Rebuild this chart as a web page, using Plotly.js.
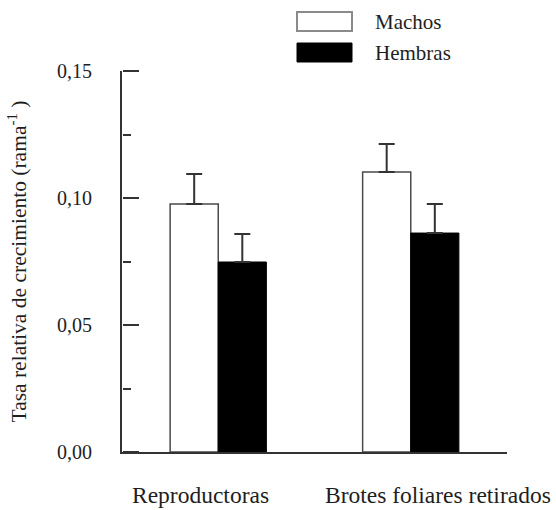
<!DOCTYPE html>
<html>
<head>
<meta charset="utf-8">
<script src="https://cdn.plot.ly/plotly-3.0.1.min.js"></script>
<style>html,body{margin:0;padding:0;background:#fff;}#chart{width:556px;height:510px;}</style>
</head>
<body>
<div id="chart"></div>
<script>
var categories = ['Reproductoras', 'Brotes foliares retirados'];
var seriesNames = ['Machos', 'Hembras'];
var machos = [0.0976, 0.1102];
var hembras = [0.0748, 0.0862];
var machosErr = [0.0118, 0.0111];
var hembrasErr = [0.0110, 0.0114];
var yRange = [0, 0.15];
var yTickStep = 0.05;
var yMinorStep = 0.025;

var FONT = 'Liberation Serif';
var TXT = '#1e1e1e';
var AX = '#333333';

var traces = [
  {
    type: 'bar', name: seriesNames[0], x: categories, y: machos,
    marker: {color: '#ffffff', line: {color: '#4a4a4a', width: 1.5}},
    error_y: {type: 'data', array: machosErr, arrayminus: [0, 0], symmetric: false,
              color: AX, thickness: 2, width: 8},
    showlegend: false
  },
  {
    type: 'bar', name: seriesNames[1], x: categories, y: hembras,
    marker: {color: '#000000', line: {color: '#000000', width: 1}},
    error_y: {type: 'data', array: hembrasErr, arrayminus: [0, 0], symmetric: false,
              color: AX, thickness: 2, width: 8},
    showlegend: false
  },
  // these two carry the overlay axes that draw the tick marks; they draw no marks
  {type: 'scatter', mode: 'none', x: categories, y: hembras, yaxis: 'y2', hoverinfo: 'skip', showlegend: false},
  {type: 'scatter', mode: 'none', x: categories, y: hembras, yaxis: 'y3', hoverinfo: 'skip', showlegend: false}
];

function px2x(p) { return (p - 122) / 385; }
function px2y(p) { return (452 - p) / 381; }

var layout = {
  width: 556, height: 510,
  margin: {l: 122, r: 49, t: 71, b: 58},
  paper_bgcolor: '#ffffff', plot_bgcolor: '#ffffff',
  barmode: 'group', bargap: 0.5, bargroupgap: 0,
  showlegend: false,
  separators: ', ',
  font: {family: FONT, color: TXT, size: 20},
  xaxis: {
    range: [-0.5, 1.5], showline: true, linecolor: AX, linewidth: 2,
    showgrid: false, zeroline: false, ticks: '', showticklabels: false, fixedrange: true
  },
  yaxis: {
    range: yRange, showline: true, linecolor: AX, linewidth: 2,
    showgrid: false, zeroline: false,
    tickmode: 'linear', tick0: 0, dtick: yTickStep, tickformat: '.2f',
    ticks: '',
    ticksuffix: '\u2003\u2009',
    tickfont: {family: FONT, size: 20, color: TXT},
    title: {text: 'Tasa relativa de crecimiento (rama<sup>-1</sup> )', standoff: 24,
            font: {family: FONT, size: 21.5, color: TXT}},
    automargin: false, fixedrange: true
  },
  yaxis2: {
    overlaying: 'y', anchor: 'free', position: 0, side: 'right',
    range: yRange, showline: false, showgrid: false, zeroline: false,
    tickmode: 'linear', tick0: 0, dtick: yTickStep,
    ticks: 'outside', ticklen: 16, tickwidth: 2, tickcolor: AX,
    showticklabels: false, automargin: false, fixedrange: true
  },
  yaxis3: {
    overlaying: 'y', anchor: 'free', position: 0, side: 'right',
    range: yRange, showline: false, showgrid: false, zeroline: false,
    tickmode: 'linear', tick0: 0, dtick: yMinorStep,
    ticks: 'outside', ticklen: 8, tickwidth: 2, tickcolor: AX,
    showticklabels: false, automargin: false, fixedrange: true
  },
  shapes: [
    {type: 'rect', xref: 'paper', yref: 'paper', x0: px2x(297), x1: px2x(352), y0: px2y(31), y1: px2y(12),
     fillcolor: '#ffffff', line: {color: '#8a8a8a', width: 2}},
    {type: 'rect', xref: 'paper', yref: 'paper', x0: px2x(297), x1: px2x(352), y0: px2y(62), y1: px2y(43),
     fillcolor: '#000000', line: {color: '#000000', width: 1}}
  ],
  annotations: [
    {xref: 'paper', yref: 'paper', x: px2x(373), y: px2y(22), xanchor: 'left', yanchor: 'middle',
     text: seriesNames[0], showarrow: false, font: {family: FONT, size: 21, color: TXT}},
    {xref: 'paper', yref: 'paper', x: px2x(373), y: px2y(53), xanchor: 'left', yanchor: 'middle',
     text: seriesNames[1], showarrow: false, font: {family: FONT, size: 21, color: TXT}}
  ]
};

categories.forEach(function (c) {
  layout.annotations.push({
    xref: 'x', yref: 'paper', x: c, y: px2y(495), xanchor: 'left', yanchor: 'middle', xshift: -88,
    text: c, showarrow: false, font: {family: FONT, size: 23.5, color: TXT}
  });
});

Plotly.newPlot('chart', traces, layout, {displayModeBar: false, staticPlot: true});
</script>
</body>
</html>
